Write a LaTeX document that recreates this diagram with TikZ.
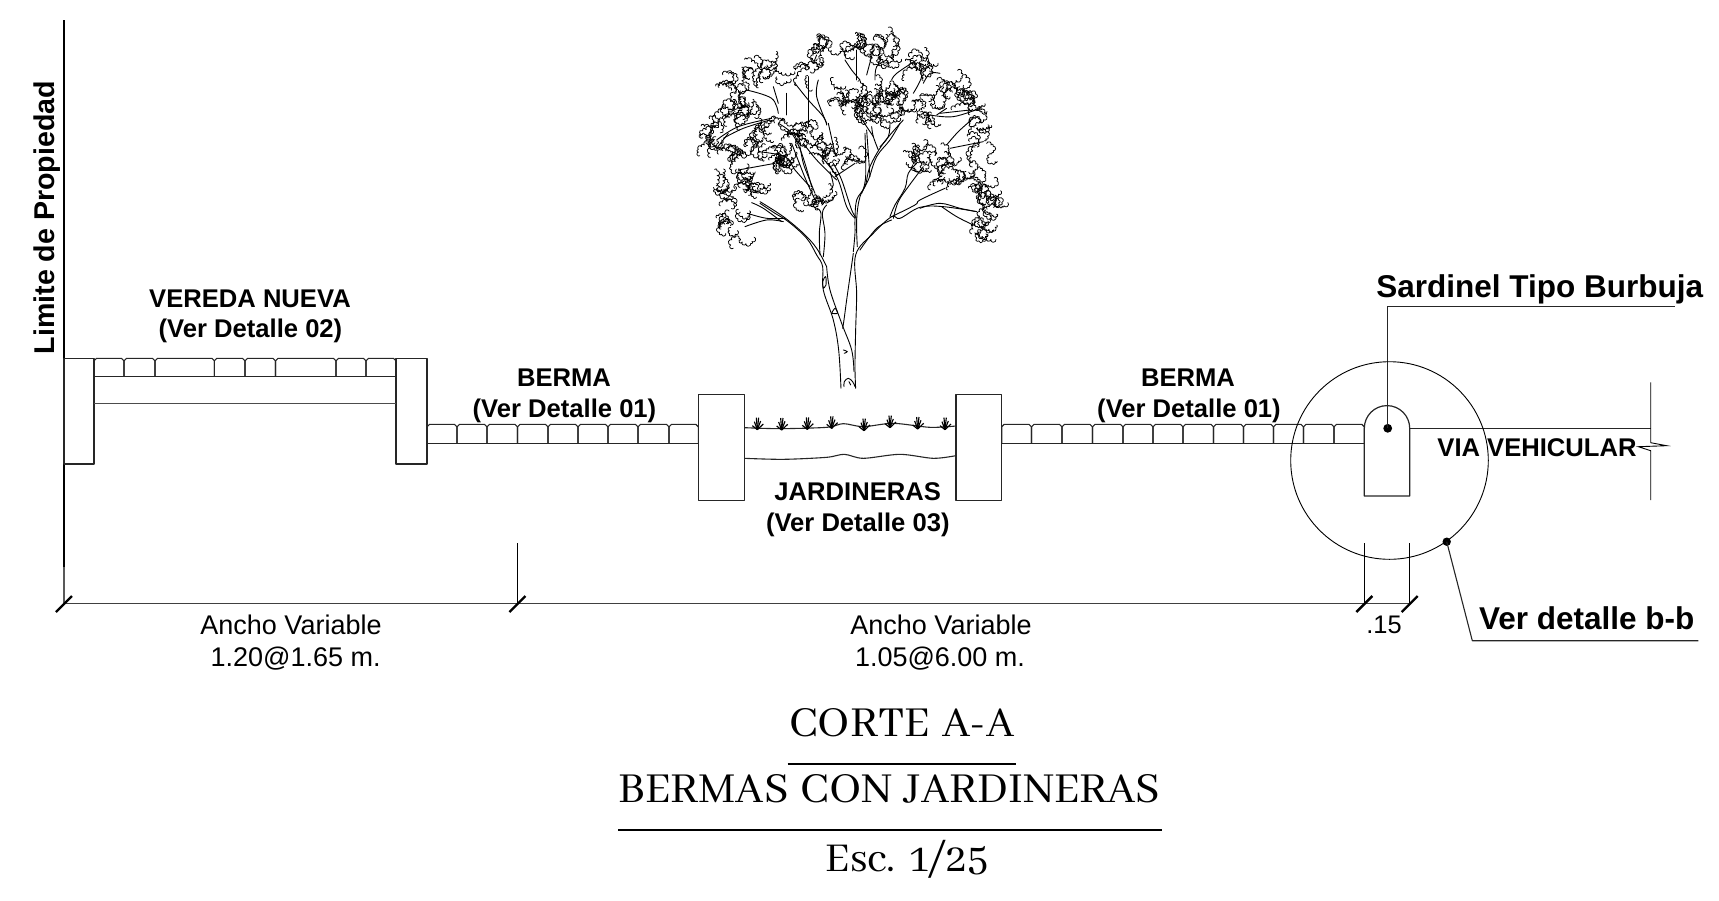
\documentclass[tikz,border=0pt]{standalone}
\usepackage{fontspec}
\setmainfont{Liberation Sans}
\newfontfamily\titlefont[Numbers=OldStyle,WordSpace=1.35]{Abhaya Libre}
\newcommand\fsz[1]{\fontsize{#1}{#1}\selectfont}
\tikzset{
  ln/.style={line width=1.1pt,black!85,line join=round},
  thin ln/.style={line width=0.9pt,black},
  tick/.style={line width=2.4pt,black,line cap=butt},
  bold lbl/.style={inner sep=0pt,anchor=base,font=\fsz{25.6}\bfseries},
  big lbl/.style={inner sep=0pt,anchor=base,font=\fsz{31.5}\bfseries},
  reg lbl/.style={inner sep=0pt,anchor=base,font=\fsz{27}},
  ttl/.style={inner sep=0pt,anchor=base,font=\fsz{47}\titlefont},
  br/.style={line width=0.9pt,black,line cap=round,line join=round},
  leaf/.style={line width=0.75pt,black,line cap=round,line join=round}
}
% paver strip
\newcommand\pavers[3]{%
  \foreach \a/\b in {#3}{%
    \draw[ln] (\a,#2) -- (\a,#1+2.5) -- (\a+2.5,#1) -- (\b-2.5,#1) -- (\b,#1+2.5) -- (\b,#2);
  }}
% foliage cluster : cx cy rx ry n (irregular scalloped strips)
\newcommand\fol[5]{%
  \pgfmathtruncatemacro\nn{max(1,#5*0.46)}%
  \foreach \i in {1,...,\nn}{%
    \pgfmathsetmacro\aa{rnd*360}%
    \pgfmathsetmacro\rr{0.85*sqrt(rnd)}%
    \pgfmathsetmacro\px{#1+#3*\rr*cos(\aa)}%
    \pgfmathsetmacro\py{#2+#4*\rr*sin(\aa)}%
    \pgfmathsetmacro\ta{rnd*360}%
    \pgfmathsetmacro\tb{\ta+10-rnd*80}%
    \pgfmathsetmacro\tc{\tb+10-rnd*80}%
    \pgfmathsetmacro\td{\tc+10-rnd*80}%
    \pgfmathsetmacro\te{\td+10-rnd*80}%
    \pgfmathsetmacro\ra{3+rnd*5}%
    \pgfmathsetmacro\rb{3+rnd*5}%
    \pgfmathsetmacro\rc{3+rnd*5}%
    \pgfmathsetmacro\rd{3+rnd*5}%
    \pgfmathsetmacro\re{3+rnd*5}%
    \draw[leaf] (\px,\py)
       arc[start angle=\ta+180,delta angle=-195,radius=\ra]
       arc[start angle=\tb+180,delta angle=-195,radius=\rb]
       arc[start angle=\tc+180,delta angle=-195,radius=\rc]
       arc[start angle=\td+180,delta angle=-195,radius=\rd]
       arc[start angle=\te+180,delta angle=-195,radius=\re];
  }}
\newcommand\brn[1]{\draw[br] plot[smooth,tension=0.6] coordinates {#1};}
\begin{document}
\begin{tikzpicture}[x=1pt,y=-1pt]
\useasboundingbox (0,0) rectangle (1719,900);
\pgfmathsetseed{4217}

% property line
\draw[line width=1.6pt] (64,20) -- (64,567);
\draw[line width=1.1pt,black!65] (64,567) -- (64,603.3);

% sidewalk
\draw[ln] (64,358.3) rectangle (94,464);
\draw[ln] (396,358.3) rectangle (427,464);
\pavers{358.3}{376.7}{94/124,124/155,155/214.4,214.4/245,245/275.5,275.5/336,336/366,366/396}
\draw[ln] (94,376.7) -- (396,376.7);
\draw[ln,black!70] (94,403.7) -- (396,403.7);

% left berm
\pavers{424.3}{443.3}{427/457,457/487,487/517.5,517.5/548,548/578,578/608,608/638,638/669,669/698.3}
\draw[ln] (427,443.3) -- (698.3,443.3);

% planter
\draw[ln] (698.3,394.3) rectangle (744.3,500.7);
\draw[ln] (956,394.3) rectangle (1001.7,500.7);
\begin{scope}[shift={(680,370)},x=0.3333pt,y=-0.3333pt]
  \draw[ln] plot[smooth,tension=0.5] coordinates {(193,173)(300,176)(440,172)(490,161)(550,170)(640,160)(750,172)(828,168)};
  \draw[ln] plot[smooth,tension=0.5] coordinates {(193,265)(310,268)(440,262)(493,253)(550,265)(660,253)(760,265)(828,257)};
  \foreach \x/\y in {232/179,305/180,382/178,455/175,552/182,630/173,713/177,795/179}{
    \foreach \dx/\dy in {-15/-12,-9/-24,-3/-36,4/-36,10/-26,18/-17}{
      \draw[line width=1.15pt] (\x,\y) -- ++(\dx,{\dy});
    }
  }
\end{scope}

% right berm
\pavers{424.3}{443.3}{1001.7/1031.5,1031.5/1062,1062/1092.5,1092.5/1123,1123/1153,1153/1183,1183/1213.5,1213.5/1243.5,1243.5/1273.5,1273.5/1303.5,1303.5/1334,1334/1364.3}
\draw[ln] (1001.7,443.3) -- (1364.3,443.3);

% curb
\draw[ln,line width=1.2pt] (1364.3,496) -- (1364.3,428.3) arc[start angle=180,end angle=360,radius=22.7] -- (1409.7,496) -- cycle;
\fill (1387.7,428.3) circle[radius=4.4];
\draw[ln] (1387.7,428.3) -- (1387.7,306.7) -- (1675,306.7);

% road and break line
\draw[ln] (1409.7,428.3) -- (1650.7,428.3);
\draw[thin ln] (1650.7,382.3) -- (1650.7,442.7) -- (1666.7,445.7) -- (1638.3,446.7) -- (1650.7,450.7) -- (1650.7,500);

% detail circle
\draw[thin ln] (1389.5,460.5) circle[radius=98.8];
\fill (1446.7,541.7) circle[radius=4.2];
\draw[ln] (1446.7,541.7) -- (1472.3,640.7) -- (1698.3,640.7);

% dimension lines
\draw[ln,black!75] (64,603.3) -- (1409.7,603.3);
\draw[thin ln] (517.5,543) -- (517.5,603.3);
\draw[thin ln] (1364.3,543.3) -- (1364.3,603.3);
\draw[thin ln] (1409.7,543.3) -- (1409.7,603.3);
\foreach \x in {64,517.5,1364.3,1409.7}{
  \draw[tick] (\x-8,612) -- (\x+8,596);
}

% title rules
\draw[line width=1.3pt] (787.5,764) -- (1016,764);
\draw[line width=1.6pt] (618,830) -- (1161.5,830);

% TREE
\begin{scope}[shift={(660,0)},x=0.3333pt,y=-0.3333pt]
  % trunks
  \brn{(543,1165)(536,1050)(520,960)(490,870)(488,800)(470,765)(440,715)(385,665)(345,640)(300,610)}
  \brn{(587,1165)(585,1100)(587,990)(590,880)(587,765)(640,700)(695,650)(720,655)(780,622)(850,620)(950,635)}
  \brn{(500,800)(510,870)(545,970)(575,1050)(582,1115)}
  \brn{(580,760)(570,830)(560,900)(552,960)(548,985)}
  \brn{(580,755)(585,700)(585,660)(590,600)(615,560)(630,500)(670,430)(730,360)}
  \brn{(592,740)(590,660)(600,590)(625,540)(650,470)(690,420)(720,370)}
  % left fork
  \brn{(480,765)(478,700)(483,640)(470,625)}
  \brn{(490,770)(495,700)(487,640)(500,615)}
  \brn{(470,610)(440,545)(418,490)(395,430)}
  \brn{(465,580)(445,530)(430,490)(420,440)}
  \brn{(365,665)(310,625)(275,608)}
  \brn{(500,800)(470,745)(430,700)(370,650)(300,605)}
  \brn{(370,665)(320,660)(255,680)}
  \brn{(375,655)(320,655)(262,640)}
  % central left
  \brn{(590,655)(575,630)(545,540)(520,490)}
  \brn{(585,655)(560,620)(530,530)(475,460)}
  \brn{(510,515)(520,555)(510,570)}
  \brn{(525,530)(585,490)}
  \brn{(430,430)(470,480)(530,540)}
  % upper left boughs
  \brn{(355,370)(395,400)(425,460)(455,560)}
  \brn{(295,455)(375,470)(405,510)(450,560)}
  \brn{(235,510)(345,490)}
  \brn{(335,355)(235,380)(170,420)}
  \brn{(330,360)(250,385)(190,415)}
  \brn{(205,400)(170,445)}
  \brn{(405,250)(445,300)(490,350)(500,375)}
  \brn{(445,230)(445,380)}
  \brn{(475,240)(470,290)(500,370)}
  \brn{(505,370)(525,460)}
  \brn{(380,280)(380,345)}
  \brn{(260,270)(335,295)(355,340)}
  \brn{(340,260)(355,310)}
  \brn{(470,165)(460,190)}
  % central right
  \brn{(620,390)(630,530)}
  \brn{(615,400)(617,530)(605,580)}
  \brn{(635,380)(640,410)(655,450)}
  \brn{(600,350)(640,410)}
  \brn{(690,370)(685,410)(660,440)}
  \brn{(590,150)(590,240)}
  \brn{(640,150)(620,225)}
  \brn{(680,180)(650,200)(645,240)}
  \brn{(770,180)(710,220)(695,240)}
  \brn{(780,190)(785,230)(760,280)}
  \brn{(840,220)(810,220)(790,250)}
  \brn{(825,285)(780,285)}
  \brn{(555,180)(575,210)(600,240)}
  \brn{(960,325)(880,350)(810,345)}
  \brn{(930,330)(840,340)}
  \brn{(860,325)(830,345)}
  \brn{(940,355)(895,395)(860,435)}
  \brn{(970,425)(920,435)(870,445)}
  % lower right boughs
  \brn{(600,750)(650,685)(695,660)}
  \brn{(695,650)(765,615)(780,600)(855,565)}
  \brn{(780,625)(840,610)(900,625)(950,635)}
  \brn{(845,620)(890,650)(940,675)}
  \brn{(690,650)(705,615)(735,565)(745,520)(770,490)}
  \brn{(700,655)(715,605)(745,560)(790,500)}
  % bark
  \brn{(490,865)(488,845)(497,830)(498,855)(490,865)}
  \brn{(515,940)(525,925)(532,940)(515,940)}
  \brn{(550,1050)(562,1055)(553,1060)}
  \brn{(552,1160)(553,1145)(565,1135)(578,1145)(585,1160)}
  \brn{(567,1145)(572,1155)}
  % foliage
  \fol{485}{150}{45}{20}{26}
  \fol{590}{140}{35}{18}{22}
  \fol{670}{155}{45}{30}{34}
  \fol{790}{195}{50}{25}{24}
  \fol{450}{215}{35}{15}{14}
  \fol{325}{212}{65}{26}{32}
  \fol{228}{265}{26}{26}{28}
  \fol{210}{320}{18}{18}{14}
  \fol{245}{345}{55}{18}{24}
  \fol{165}{405}{38}{38}{30}
  \fol{300}{385}{50}{18}{16}
  \fol{365}{365}{28}{12}{10}
  \fol{240}{465}{28}{28}{22}
  \fol{290}{435}{32}{8}{10}
  \fol{235}{510}{22}{16}{12}
  \fol{360}{472}{20}{24}{40}
  \fol{170}{570}{25}{28}{18}
  \fol{280}{575}{45}{22}{22}
  \fol{225}{630}{28}{12}{12}
  \fol{205}{685}{22}{22}{14}
  \fol{235}{715}{8}{12}{6}
  \fol{465}{600}{60}{20}{30}
  \fol{455}{410}{55}{30}{36}
  \fol{530}{470}{60}{20}{30}
  \fol{595}{485}{10}{10}{8}
  \fol{640}{310}{110}{58}{110}
  \fol{545}{310}{22}{12}{10}
  \fol{800}{325}{36}{28}{20}
  \fol{800}{372}{25}{8}{8}
  \fol{880}{265}{45}{25}{26}
  \fol{930}{305}{30}{25}{20}
  \fol{950}{372}{20}{20}{14}
  \fol{960}{430}{28}{18}{12}
  \fol{990}{462}{6}{12}{5}
  \fol{780}{470}{60}{36}{32}
  \fol{870}{490}{36}{22}{18}
  \fol{920}{515}{12}{6}{6}
  \fol{870}{545}{36}{18}{18}
  \fol{960}{565}{50}{25}{30}
  \fol{985}{615}{32}{26}{20}
  \fol{960}{680}{26}{32}{22}
  \fol{520}{232}{5}{4}{3}
\end{scope}

% labels
\node[big lbl,font=\fsz{28.6}\bfseries,rotate=90] (prop) at (54.5,217.5) {Limite de Propiedad};
\node[bold lbl] (ver1) at (250,307.5) {VEREDA NUEVA};
\node[bold lbl] (ver2) at (250.5,337.5) {(Ver Detalle 02)};
\node[bold lbl] (be1) at (564,386) {BERMA};
\node[bold lbl] (be2) at (564.5,417.5) {(Ver Detalle 01)};
\node[bold lbl] (be3) at (1188,386) {BERMA};
\node[bold lbl] (be4) at (1189,417.5) {(Ver Detalle 01)};
\node[bold lbl] (jar1) at (857.7,500.3) {JARDINERAS};
\node[bold lbl] (jar2) at (857.8,531.5) {(Ver Detalle 03)};
\node[big lbl] (sar) at (1539.7,297.5) {Sardinel Tipo Burbuja};
\node[big lbl] (det) at (1586.7,629.5) {Ver detalle b-b};
\node[bold lbl] (via) at (1537,456) {VIA VEHICULAR};
\node[reg lbl,font=\fsz{25.4}] (q15) at (1384,633.5) {.15};
\node[reg lbl] (a1) at (291,634.3) {Ancho Variable};
\node[reg lbl] (a2) at (295.7,666.7) {1.20@1.65 m.};
\node[reg lbl] (a3) at (941,634) {Ancho Variable};
\node[reg lbl] (a4) at (940,666.5) {1.05@6.00 m.};
\node[ttl] (t1) at (901.7,736.7) {CORTE A-A};
\node[ttl] (t2) at (889.3,802) {BERMAS CON JARDINERAS};
\node[ttl,font=\fsz{45}\titlefont] (t3) at (907,871.7) {Esc. 1/25};
\end{tikzpicture}
\end{document}
